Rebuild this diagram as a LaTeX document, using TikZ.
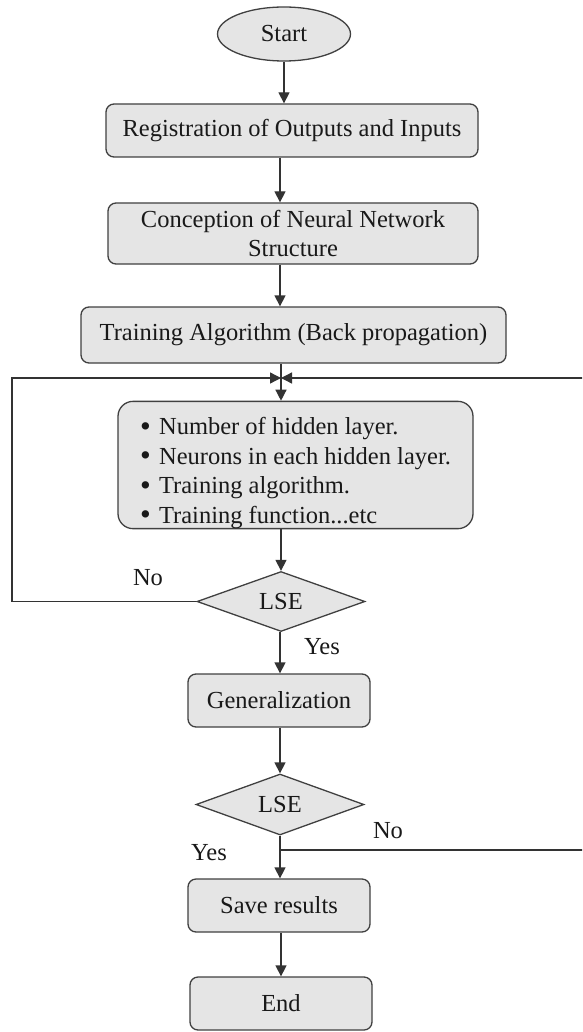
\documentclass[tikz,border=0pt]{standalone}
\usepackage{fontspec}
\setmainfont{Liberation Serif}
\usetikzlibrary{shapes.geometric,arrows.meta}
\begin{document}
\begin{tikzpicture}[x=1pt,y=-1pt,
  every node/.style={font=\fontsize{24.5}{29}\selectfont, text=black!90, inner sep=0pt},
  shape base/.style={draw=black!75, line width=1.3pt, fill=black!10},
  term/.style={shape base, ellipse, minimum width=133pt, minimum height=54pt},
  proc/.style={shape base, rectangle, rounded corners=8pt, minimum height=53pt, align=center},
  listbox/.style={shape base, rectangle, rounded corners=15pt, minimum width=355pt,
    minimum height=122pt, align=left, font=\fontsize{24.5}{29.5}\selectfont},
  decision/.style={shape base, diamond, aspect=2.8, minimum width=168pt, minimum height=60pt},
  arr/.style={draw=black!80, line width=1.3pt, -{Triangle[length=11pt,width=11pt]}},
  lbl/.style={font=\fontsize{24.5}{29}\selectfont}]
\useasboundingbox (0,0) rectangle (582,1032);

\newcommand{\listmark}{\makebox[19pt][l]{\raisebox{-1.3pt}{\scalebox{1.25}{\textbullet}}}}

% main column
\node[term] (start) at (284,34) {Start};
\node[proc, minimum width=372pt] (reg) at (292,130.5) {Registration of Outputs and Inputs};
\node[proc, minimum width=370pt, minimum height=61pt] (con) at (293,233.5)
  {Conception of Neural Network\\Structure};
\node[proc, minimum width=425pt, minimum height=56pt] (train) at (293.5,335)
  {Training Algorithm (Back propagation)};
\node[listbox] (params) at (295.5,465)
  {\rule{0pt}{33.5pt}\listmark Number of hidden layer.\\
   \listmark Neurons in each hidden layer.\\
   \listmark Training algorithm.\\
   \listmark Training function...etc};
\node[decision] (lse1) at (281,601.5) {LSE};
\node[proc, minimum width=182pt] (gen) at (279,700.5) {Generalization};
\node[decision, minimum height=61pt] (lse2) at (280,804.5) {LSE};
\node[proc, minimum width=182pt] (save) at (279,905.5) {Save results};
\node[proc, minimum width=182pt] (endn) at (281,1003.5) {End};

% branch labels
\node[lbl] (no1) at (148,578) {No};
\node[lbl] (yes1) at (322,647) {Yes};
\node[lbl] (no2) at (388,831) {No};
\node[lbl] (yes2) at (209,853) {Yes};

% helper points
\coordinate (axis) at (281,0);
\coordinate (axisb) at (280,0);
\coordinate (meet) at (281,378);
\coordinate (lft) at (12,378);
\coordinate (rgt) at (592,378);
\coordinate (nobr) at (280,850);

% straight flow
\draw[arr] (start.south) -- (start.south |- reg.north);
\draw[arr] (reg.south -| axisb) -- (con.north -| axisb);
\draw[arr] (con.south -| axisb) -- (train.north -| axisb);
\draw[arr] (train.south -| axis) -- (params.north -| axis);
\draw[arr] (params.south -| axis) -- (lse1.north);
\draw[arr] (lse1.south -| axisb) -- (gen.north -| axisb);
\draw[arr] (gen.south -| lse2.north) -- (lse2.north);
\draw[arr] (lse2.south) -- (save.north -| lse2.south);
\draw[arr] (save.south -| axis) -- (endn.north -| axis);

% feedback loops
\draw[arr] (lse1.west) -| (lft) -- (meet);
\begin{scope}
  \clip (0,0) rectangle (582,1032);
  \draw[arr] (nobr) -| (rgt) -- (meet);
\end{scope}
\end{tikzpicture}
\end{document}
